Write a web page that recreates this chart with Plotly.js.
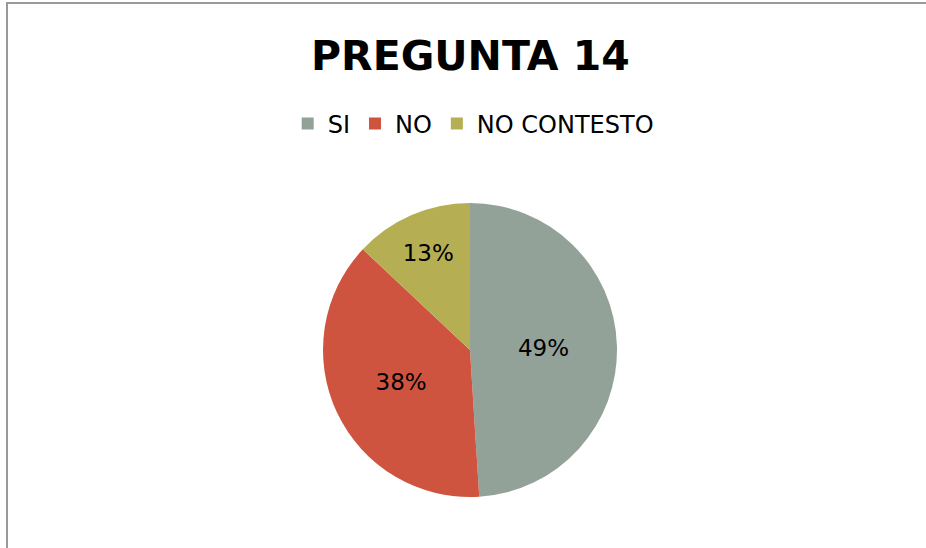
<!DOCTYPE html>
<html>
<head>
<meta charset="utf-8">
<script src="https://cdn.plot.ly/plotly-3.0.1.min.js"></script>
<style>html,body{margin:0;padding:0;background:#fff;} #chart{width:926px;height:548px;}</style>
</head>
<body>
<div id="chart"></div>
<script>
const categories = ["SI", "NO", "NO CONTESTO"];
const values = [49, 38, 13];
const colors = ["#93A299", "#CF543F", "#B5AE53"];
const chartTitle = "PREGUNTA 14";

const W = 926, H = 548;
const cx = 470, cy = 350, r = 147;

const trace = {
  type: "pie",
  labels: categories,
  values: values,
  sort: false,
  direction: "clockwise",
  rotation: 0,
  marker: {colors: colors, line: {color: "#ffffff", width: 0}},
  textinfo: "percent",
  texttemplate: "%{percent:.0%}",
  textposition: "inside",
  insidetextorientation: "horizontal",
  textfont: {family: "DejaVu Sans", size: 23, color: "#000000"},
  domain: {x: [(cx - r) / W, (cx + r) / W], y: [(H - cy - r) / H, (H - cy + r) / H]},
  hoverinfo: "label+percent"
};

const layout = {
  width: W, height: H,
  margin: {l: 0, r: 0, t: 0, b: 0},
  paper_bgcolor: "#ffffff",
  title: {text: "<b>" + chartTitle + "</b>", x: 0.508, xanchor: "center", y: 1 - 56 / H, yanchor: "middle",
          font: {family: "DejaVu Sans", size: 41, color: "#000000"}},
  showlegend: true,
  legend: {orientation: "h", x: 0.511, xanchor: "center", y: 1 - 124 / H, yanchor: "middle",
           font: {family: "DejaVu Sans", size: 24, color: "#000000"}, itemwidth: 30, traceorder: "normal"},
  shapes: [{type: "rect", xref: "paper", yref: "paper", x0: 7 / W, x1: 1.02, y0: -0.02, y1: 1 - 3 / H,
            line: {color: "#9a9a9a", width: 2}, fillcolor: "rgba(0,0,0,0)"}]
};

Plotly.newPlot("chart", [trace], layout, {displayModeBar: false, staticPlot: true});
</script>
</body>
</html>
